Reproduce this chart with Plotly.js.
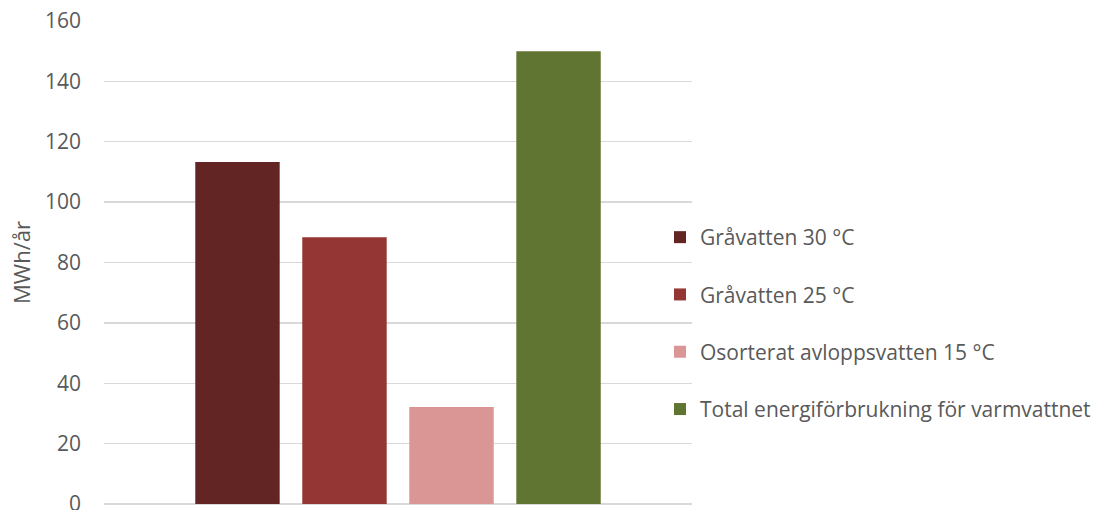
<!DOCTYPE html>
<html>
<head>
<meta charset="utf-8">
<script src="https://cdn.plot.ly/plotly-3.0.1.min.js"></script>
<style>
  html, body { margin: 0; padding: 0; background: #fff; }
  #chart { width: 1095px; height: 510px; }
</style>
</head>
<body>
<div id="chart"></div>
<script>
// Energy available per source, MWh per year
const seriesNames = [
  'Gråvatten 30 °C',
  'Gråvatten 25 °C',
  'Osorterat avloppsvatten 15 °C',
  'Total energiförbrukning för varmvattnet'
];
const seriesValues = [113.3, 88.4, 32.1, 150];
const seriesColors = ['#632523', '#943634', '#D99694', '#617532'];
const category = [''];
const yTicks = [0, 20, 40, 60, 80, 100, 120, 140, 160];

const font = 'Open Sans, sans-serif';
const textColor = '#595959';
const fontSize = 21;

const traces = seriesNames.map((name, i) => ({
  type: 'bar',
  name: name,
  x: category,
  y: [seriesValues[i]],
  marker: { color: seriesColors[i], line: { width: 0 } },
  legendgroup: 'g' + i,
  hoverinfo: 'y+name'
}));

const layout = {
  width: 1095,
  height: 510,
  margin: { l: 104, r: 403, t: 21, b: 6, autoexpand: false },
  paper_bgcolor: '#ffffff',
  plot_bgcolor: '#ffffff',
  font: { family: font, size: fontSize, color: textColor },
  barmode: 'group',
  bargap: 0.272,
  bargroupgap: 0.211,
  showlegend: true,
  legend: {
    x: 660 / 1095, xref: 'container', xanchor: 'left',
    y: 1 - 217 / 510, yref: 'container', yanchor: 'top',
    font: { family: font, size: fontSize, color: textColor },
    traceorder: 'grouped',
    tracegroupgap: 27,
    itemwidth: 30,
    bgcolor: 'rgba(0,0,0,0)'
  },
  xaxis: {
    type: 'category',
    showticklabels: false,
    showgrid: false,
    zeroline: false,
    showline: false,
    ticks: ''
  },
  yaxis: {
    range: [0, 160],
    tickvals: yTicks,
    ticktext: yTicks.map(String),
    showgrid: true,
    gridcolor: '#D9D9D9',
    gridwidth: 1.3,
    zeroline: true,
    zerolinecolor: '#D9D9D9',
    zerolinewidth: 1.3,
    showline: false,
    ticks: '',
    ticklabelstandoff: 22,
    ticklabeloverflow: 'allow',
    tickfont: { family: font, size: fontSize, color: textColor },
    title: {
      text: 'MWh/år',
      font: { family: font, size: 22, color: textColor },
      standoff: 8
    }
  }
};

Plotly.newPlot('chart', traces, layout, { displayModeBar: false, staticPlot: true });
</script>
</body>
</html>
